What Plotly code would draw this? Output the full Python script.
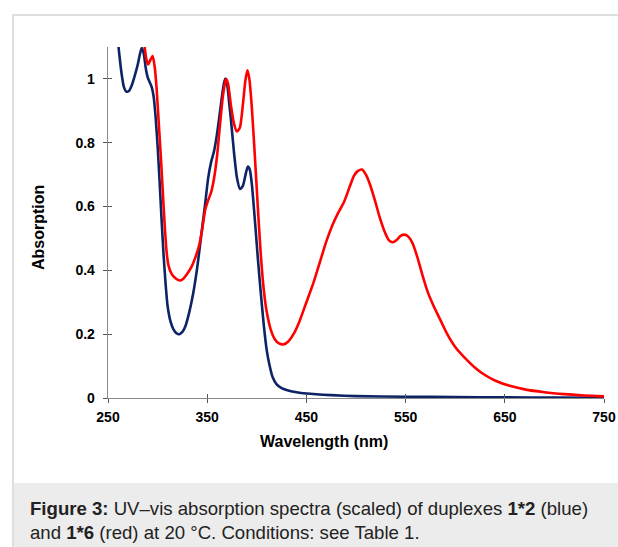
import plotly.graph_objects as go

# ---------------- data ----------------
blue_wl = [258, 260, 262, 264, 266, 268.5, 271, 274, 277, 280, 282, 284, 286, 288, 290, 292,
           294, 296, 298, 300, 302, 304, 306, 308, 310, 313, 316, 319, 322, 325, 328, 332,
           336, 340, 344, 348, 351, 354, 357, 360, 363, 366, 368, 370, 372, 374, 377, 380,
           383, 386, 389, 391, 393, 395, 398, 401, 404, 407, 410, 413, 416, 420, 425, 430,
           440, 450, 475, 500, 550, 600, 650, 700, 750]
blue_abs = [1.20, 1.12, 1.06, 1.01, 0.975, 0.96, 0.962, 0.98, 1.01, 1.045, 1.075, 1.097, 1.08, 1.035,
            1.005, 0.99, 0.975, 0.945, 0.88, 0.79, 0.68, 0.56, 0.45, 0.36, 0.29, 0.24, 0.215,
            0.203, 0.200, 0.207, 0.225, 0.27, 0.33, 0.41, 0.51, 0.61, 0.69, 0.74, 0.775, 0.83,
            0.90, 0.97, 1.0, 0.985, 0.93, 0.87, 0.77, 0.69, 0.655, 0.665, 0.705, 0.725, 0.715,
            0.67, 0.56, 0.44, 0.33, 0.23, 0.15, 0.10, 0.065, 0.043, 0.031, 0.025, 0.018, 0.014,
            0.009, 0.006, 0.004, 0.003, 0.002, 0.0015, 0.001]

red_wl = [285.5, 287, 288.5, 290.5, 292.5, 295, 297, 299, 301, 303, 305, 307, 309, 311, 314, 318,
          322, 326, 330, 334, 338, 342, 345, 348, 351, 354, 357, 360, 363, 366, 369, 371, 374,
          377, 380, 383, 386, 388.5, 390.5, 392.5, 395, 398, 401, 404, 407, 410, 414, 418, 422,
          427, 432, 437, 443, 450, 457, 464, 470, 476, 482, 488, 494, 498, 502, 506, 510, 514,
          519, 524, 529, 533, 537, 541, 545, 549, 553, 557, 562, 567, 572, 578, 585, 592, 600,
          610, 620, 630, 640, 655, 670, 690, 710, 730, 750]
red_abs = [1.16, 1.10, 1.065, 1.045, 1.058, 1.072, 1.04, 0.97, 0.87, 0.77, 0.66, 0.55, 0.46, 0.415,
           0.39, 0.375, 0.368, 0.374, 0.39, 0.41, 0.44, 0.48, 0.53, 0.59, 0.62, 0.645, 0.69,
           0.76, 0.86, 0.95, 1.0, 0.985, 0.915, 0.86, 0.835, 0.848, 0.92, 0.995, 1.027, 1.0,
           0.91, 0.76, 0.60, 0.45, 0.34, 0.27, 0.215, 0.185, 0.172, 0.168, 0.178, 0.20, 0.24,
           0.30, 0.36, 0.43, 0.49, 0.54, 0.58, 0.615, 0.665, 0.697, 0.712, 0.716, 0.70, 0.67,
           0.62, 0.565, 0.52, 0.495, 0.488, 0.495, 0.508, 0.512, 0.505, 0.485, 0.44, 0.385,
           0.335, 0.29, 0.245, 0.20, 0.16, 0.125, 0.095, 0.072, 0.055, 0.038, 0.027, 0.018,
           0.012, 0.008, 0.005]

x_ticks = [250, 350, 450, 550, 650, 750]
x_tick_text = ["250", "350", "450", "550", "650", "750"]
y_ticks = [0, 0.2, 0.4, 0.6, 0.8, 1]
y_tick_text = ["0", "0.2", "0.4", "0.6", "0.8", "1"]

x_title = "Wavelength (nm)"
y_title = "Absorption"
caption_line1 = "<b>Figure 3:</b> UV–vis absorption spectra (scaled) of duplexes <b>1*2</b> (blue)"
caption_line2 = "and <b>1*6</b> (red) at 20 °C. Conditions: see Table 1."

# ---------------- layout geometry ----------------
W, H = 618, 547
L, R, T, B = 108, 14, 47, 149
PW, PH = W - L - R, H - T - B


def px(x):
    return (x - L) / PW


def py(y):
    return (H - B - y) / PH


FONT = "Liberation Sans, Arial, sans-serif"

fig = go.Figure()
fig.add_trace(go.Scatter(x=blue_wl, y=blue_abs, mode="lines", line=dict(color="#0c2466", width=2.6, shape="spline", smoothing=0.6),
                         showlegend=False, hoverinfo="skip"))
fig.add_trace(go.Scatter(x=red_wl, y=red_abs, mode="lines", line=dict(color="#ff0000", width=2.6, shape="spline", smoothing=0.6),
                         showlegend=False, hoverinfo="skip"))
# empty trace so the overlay axes (inside tick halves) are drawn
fig.add_trace(go.Scatter(x=[None], y=[None], xaxis="x2", yaxis="y2", showlegend=False, hoverinfo="skip"))

axis_common = dict(showgrid=False, zeroline=False, tickcolor="#555555", tickwidth=1, ticklen=4, automargin=False)
fig.update_layout(
    width=W, height=H, autosize=False,
    margin=dict(l=L, r=R, t=T, b=B, autoexpand=False),
    paper_bgcolor="white", plot_bgcolor="rgba(0,0,0,0)",
    font=dict(family=FONT, color="black"),
    xaxis=dict(range=[250, 750], tickvals=x_ticks, ticktext=x_tick_text, ticks="outside",
               showline=True, linecolor="#888888", linewidth=1.3,
               tickfont=dict(size=14, family=FONT, weight="bold", color="black"),
               ticklabelstandoff=2, **axis_common),
    yaxis=dict(range=[0, 1.1], tickvals=y_ticks, ticktext=y_tick_text, ticks="outside",
               showline=True, linecolor="#888888", linewidth=1.3,
               tickfont=dict(size=14, family=FONT, weight="bold", color="black"),
               ticklabelstandoff=5, **axis_common),
    xaxis2=dict(range=[250, 750], tickvals=x_ticks, ticks="inside", overlaying="x", anchor="y2",
                showticklabels=False, showline=False, **axis_common),
    yaxis2=dict(range=[0, 1.1], tickvals=y_ticks, ticks="inside", overlaying="y", anchor="x2",
                showticklabels=False, showline=False, **axis_common),
)

# frame and caption box
fig.add_shape(type="rect", xref="paper", yref="paper", x0=px(14), x1=px(W + 5), y0=py(H + 5), y1=py(483),
              fillcolor="#ececec", line=dict(width=0), layer="below")
fig.add_shape(type="line", xref="paper", yref="paper", x0=px(12), x1=px(W + 5), y0=py(15), y1=py(15),
              line=dict(color="#dedede", width=2), layer="below")
fig.add_shape(type="line", xref="paper", yref="paper", x0=px(13), x1=px(13), y0=py(15), y1=py(H + 5),
              line=dict(color="#dedede", width=2), layer="below")

# axis titles
fig.add_annotation(text=f"<b>{x_title}</b>", xref="paper", yref="paper", x=px(324), y=py(441),
                   showarrow=False, font=dict(size=16, family=FONT, color="black"), xanchor="center", yanchor="middle")
fig.add_annotation(text=f"<b>{y_title}</b>", xref="paper", yref="paper", x=px(38), y=py(228), textangle=-90,
                   showarrow=False, font=dict(size=16, family=FONT, color="black"), xanchor="center", yanchor="middle")

# caption
fig.add_annotation(text=caption_line1, xref="paper", yref="paper", x=px(28), y=py(508), showarrow=False,
                   xanchor="left", yanchor="middle", align="left", font=dict(size=18.6, family=FONT, color="#222222"))
fig.add_annotation(text=caption_line2, xref="paper", yref="paper", x=px(28), y=py(532), showarrow=False,
                   xanchor="left", yanchor="middle", align="left", font=dict(size=18.6, family=FONT, color="#222222"))

fig.write_html(
    "out.html",
    config={"displayModeBar": False, "responsive": False, "staticPlot": True},
    post_script="document.body.style.margin='0';document.body.style.overflow='hidden';"
                "document.documentElement.style.overflow='hidden';"
                "Plotly.relayout(document.getElementById('{plot_id}'), {width: %d, height: %d});" % (W, H),
)
